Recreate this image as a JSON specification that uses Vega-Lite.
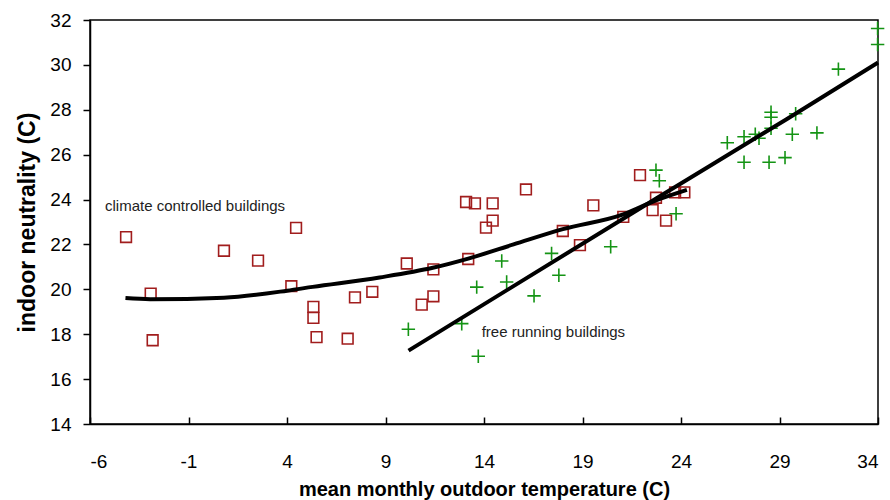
{
  "$schema": "https://vega.github.io/schema/vega-lite/v6.json",
  "autosize": "none",
  "width": 788,
  "height": 404,
  "padding": {"left": 90, "top": 20, "right": 12, "bottom": 76},
  "background": "white",
  "config": {
    "view": {"stroke": "black", "strokeWidth": 1.5},
    "font": "Liberation Sans",
    "axis": {"grid": false, "domainColor": "black", "domainWidth": 1.5, "tickColor": "black", "tickWidth": 1.5, "labelColor": "black", "titleColor": "black", "labelFont": "Liberation Sans", "titleFont": "Liberation Sans"}
  },
  "datasets": {
    "controlled": [
      {"x": -4.17, "y": 22.33}, {"x": -2.92, "y": 19.81}, {"x": -2.82, "y": 17.73}, {"x": 0.8, "y": 21.72},
      {"x": 2.53, "y": 21.28}, {"x": 4.22, "y": 20.14}, {"x": 4.46, "y": 22.74}, {"x": 5.34, "y": 19.22},
      {"x": 5.34, "y": 18.73}, {"x": 5.5, "y": 17.87}, {"x": 7.08, "y": 17.8}, {"x": 7.45, "y": 19.64},
      {"x": 8.33, "y": 19.89}, {"x": 10.08, "y": 21.15}, {"x": 10.84, "y": 19.32}, {"x": 11.43, "y": 20.89},
      {"x": 11.43, "y": 19.69}, {"x": 13.09, "y": 23.89}, {"x": 13.2, "y": 21.35}, {"x": 13.54, "y": 23.83},
      {"x": 14.44, "y": 23.83}, {"x": 14.44, "y": 23.06}, {"x": 14.1, "y": 22.75}, {"x": 16.13, "y": 24.45},
      {"x": 18.0, "y": 22.6}, {"x": 18.87, "y": 21.97}, {"x": 19.55, "y": 23.74}, {"x": 21.07, "y": 23.23},
      {"x": 21.92, "y": 25.09}, {"x": 22.73, "y": 24.08}, {"x": 22.56, "y": 23.53}, {"x": 23.24, "y": 23.06},
      {"x": 23.7, "y": 24.32}, {"x": 24.17, "y": 24.32}
    ],
    "freerunning": [
      {"x": 10.16, "y": 18.22}, {"x": 12.87, "y": 18.47}, {"x": 13.71, "y": 17.02}, {"x": 13.63, "y": 20.1},
      {"x": 14.9, "y": 21.26}, {"x": 15.15, "y": 20.33}, {"x": 16.54, "y": 19.71}, {"x": 17.43, "y": 21.6},
      {"x": 17.8, "y": 20.63}, {"x": 20.43, "y": 21.9}, {"x": 22.73, "y": 25.31}, {"x": 22.9, "y": 24.84},
      {"x": 23.75, "y": 23.37}, {"x": 26.35, "y": 26.53}, {"x": 27.2, "y": 26.8}, {"x": 27.2, "y": 25.66},
      {"x": 27.77, "y": 26.91}, {"x": 27.96, "y": 26.73}, {"x": 28.57, "y": 27.89}, {"x": 28.57, "y": 27.67},
      {"x": 28.57, "y": 27.18}, {"x": 28.47, "y": 25.66}, {"x": 29.28, "y": 25.87}, {"x": 29.65, "y": 26.91},
      {"x": 29.82, "y": 27.82}, {"x": 30.9, "y": 26.97}, {"x": 31.99, "y": 29.81}, {"x": 33.98, "y": 31.62},
      {"x": 33.98, "y": 30.91}
    ],
    "lines": [
      {"series": "controlled", "x": -4.2, "y": 19.61}, {"series": "controlled", "x": -2.95, "y": 19.56},
      {"series": "controlled", "x": 0.8, "y": 19.63}, {"series": "controlled", "x": 4.0, "y": 19.94},
      {"series": "controlled", "x": 5.3, "y": 20.11}, {"series": "controlled", "x": 8.7, "y": 20.53},
      {"series": "controlled", "x": 11.4, "y": 20.96}, {"series": "controlled", "x": 13.2, "y": 21.37},
      {"series": "controlled", "x": 15.5, "y": 22.0}, {"series": "controlled", "x": 18.0, "y": 22.68},
      {"series": "controlled", "x": 21.07, "y": 23.34}, {"series": "controlled", "x": 22.76, "y": 23.97},
      {"series": "controlled", "x": 24.3, "y": 24.43},
      {"series": "free", "x": 10.17, "y": 17.27}, {"series": "free", "x": 22.76, "y": 24.06},
      {"series": "free", "x": 29.36, "y": 27.58}, {"series": "free", "x": 34.0, "y": 30.1}
    ],
    "labels": [
      {"x": -5.24, "y": 23.7, "text": "climate controlled buildings"},
      {"x": 13.88, "y": 18.08, "text": "free running buildings"}
    ]
  },
  "layer": [
    {
      "data": {"name": "controlled"},
      "mark": {"type": "point", "shape": "square", "filled": false, "size": 115, "strokeWidth": 1.6, "color": "#a11d1d", "opacity": 1},
      "encoding": {
        "x": {"field": "x", "type": "quantitative",
          "scale": {"domain": [-6, 34], "nice": false, "zero": false},
          "axis": {"values": [-6, -1, 4, 9, 14, 19, 24, 29, 34], "labelExpr": "'' + datum.value", "tickSize": -7, "labelPadding": 35, "labelFontSize": 19, "title": "mean monthly outdoor temperature (C)", "titleFontSize": 20, "titleFontWeight": "bold", "titlePadding": 8}},
        "y": {"field": "y", "type": "quantitative",
          "scale": {"domain": [14, 32], "nice": false, "zero": false},
          "axis": {"values": [14, 16, 18, 20, 22, 24, 26, 28, 30, 32], "tickSize": 7, "labelPadding": 12, "labelFontSize": 19, "title": "indoor neutrality (C)", "titleFontSize": 23, "titleFontWeight": "bold", "titlePadding": 10}}
      }
    },
    {
      "data": {"name": "freerunning"},
      "mark": {"type": "point", "shape": "M-1,0L1,0M0,-1L0,1", "filled": false, "size": 180, "strokeWidth": 1.6, "color": "#149414", "opacity": 1},
      "encoding": {
        "x": {"field": "x", "type": "quantitative"},
        "y": {"field": "y", "type": "quantitative"}
      }
    },
    {
      "data": {"name": "lines"},
      "mark": {"type": "line", "interpolate": "monotone", "color": "black", "strokeWidth": 4},
      "encoding": {
        "x": {"field": "x", "type": "quantitative"},
        "y": {"field": "y", "type": "quantitative"},
        "detail": {"field": "series"}
      }
    },
    {
      "data": {"name": "labels"},
      "mark": {"type": "text", "align": "left", "baseline": "middle", "fontSize": 15, "color": "#222222", "font": "Liberation Sans"},
      "encoding": {
        "x": {"field": "x", "type": "quantitative"},
        "y": {"field": "y", "type": "quantitative"},
        "text": {"field": "text"}
      }
    }
  ]
}
